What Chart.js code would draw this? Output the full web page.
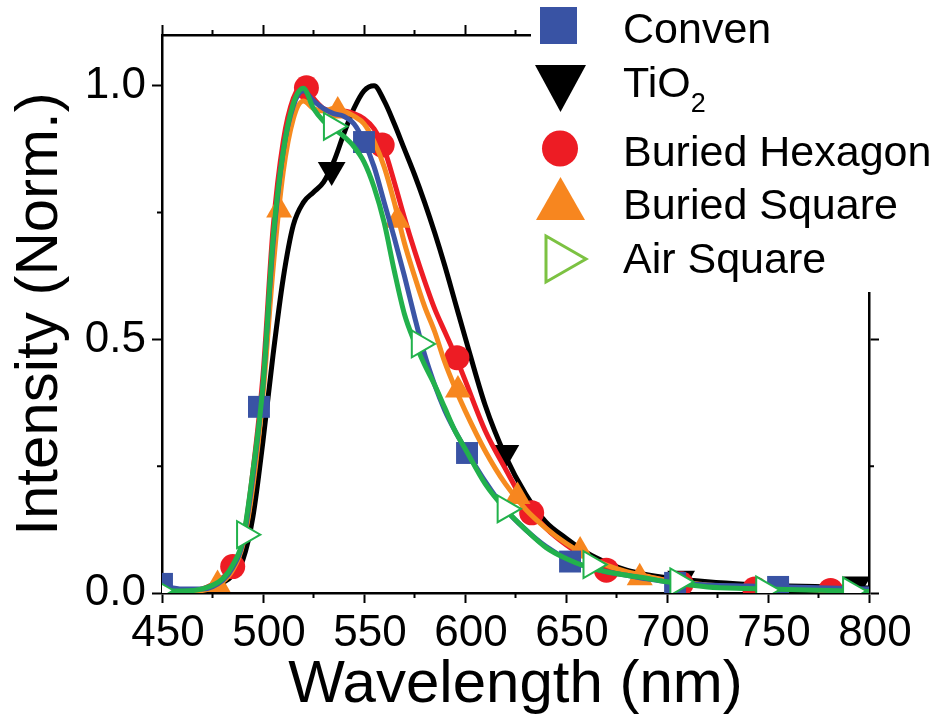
<!DOCTYPE html>
<html>
<head>
<meta charset="utf-8">
<script src="https://cdn.jsdelivr.net/npm/chart.js@4.4.1/dist/chart.umd.min.js"></script>
<style>
  html, body { margin: 0; padding: 0; background: #fff; }
  #wrap { width: 943px; height: 721px; position: relative; }
</style>
</head>
<body>
<div id="wrap"><canvas id="Chart"></canvas></div>
<script>
// wavelength grid (nm) and normalised spectra
const wavelengths = [450, 460, 470, 480, 485, 490, 495, 500, 505, 510, 515, 520, 525, 530, 535, 540, 545, 550, 555, 560, 565, 570, 575, 580, 585, 590, 595, 600, 610, 620, 630, 640, 650, 660, 670, 680, 690, 700, 720, 740, 760, 780, 800];

const conven = [0.015, 0.008, 0.008, 0.025, 0.05, 0.10, 0.23, 0.41, 0.69, 0.87, 0.96, 0.99, 0.97, 0.955, 0.945, 0.94, 0.925, 0.89, 0.84, 0.77, 0.70, 0.625, 0.545, 0.47, 0.41, 0.36, 0.32, 0.285, 0.22, 0.165, 0.125, 0.092, 0.068, 0.052, 0.042, 0.035, 0.028, 0.022, 0.016, 0.014, 0.012, 0.01, 0.008];
const tio2 = [0.012, 0.005, 0.006, 0.02, 0.035, 0.065, 0.15, 0.30, 0.47, 0.62, 0.725, 0.77, 0.79, 0.81, 0.85, 0.905, 0.955, 0.99, 1.0, 0.97, 0.925, 0.875, 0.825, 0.77, 0.71, 0.645, 0.575, 0.505, 0.37, 0.27, 0.195, 0.14, 0.108, 0.08, 0.06, 0.045, 0.036, 0.03, 0.022, 0.017, 0.014, 0.012, 0.01];
const buriedHex = [0.005, 0.003, 0.008, 0.03, 0.05, 0.10, 0.24, 0.43, 0.72, 0.89, 0.975, 1.0, 0.975, 0.955, 0.95, 0.95, 0.945, 0.935, 0.915, 0.875, 0.81, 0.74, 0.675, 0.615, 0.56, 0.515, 0.47, 0.42, 0.32, 0.245, 0.175, 0.128, 0.095, 0.07, 0.05, 0.04, 0.032, 0.025, 0.015, 0.011, 0.008, 0.007, 0.005];
const buriedSq = [0.003, 0.003, 0.005, 0.022, 0.045, 0.095, 0.21, 0.39, 0.64, 0.83, 0.935, 0.97, 0.955, 0.95, 0.955, 0.95, 0.94, 0.925, 0.89, 0.84, 0.77, 0.69, 0.625, 0.565, 0.515, 0.455, 0.405, 0.36, 0.28, 0.215, 0.165, 0.128, 0.098, 0.074, 0.055, 0.042, 0.033, 0.025, 0.016, 0.011, 0.008, 0.006, 0.004];
const airSq = [0.005, 0.004, 0.008, 0.028, 0.055, 0.105, 0.24, 0.41, 0.70, 0.87, 0.965, 0.995, 0.955, 0.93, 0.915, 0.90, 0.88, 0.85, 0.80, 0.73, 0.635, 0.55, 0.495, 0.45, 0.41, 0.365, 0.32, 0.285, 0.215, 0.165, 0.125, 0.09, 0.068, 0.052, 0.042, 0.035, 0.029, 0.022, 0.012, 0.009, 0.007, 0.005, 0.003];

// symbol positions along each curve
const convenMarkX = [450, 498, 550, 601, 652, 704, 755];
const convenMarkY = [0.018, 0.367, 0.889, 0.276, 0.062, 0.02, 0.012];
const tio2MarkX = [447, 534, 620, 707, 794];
const tio2MarkY = [0.015, 0.834, 0.276, 0.028, 0.017];
const hexMarkX = [485, 521.5, 559, 596, 633, 670, 707, 743.5, 781];
const hexMarkY = [0.052, 0.996, 0.883, 0.464, 0.158, 0.045, 0.018, 0.008, 0.005];
const sqMarkX = [477.5, 508, 537, 566.5, 596.5, 626, 657, 686.5];
const sqMarkY = [0.017, 0.755, 0.95, 0.735, 0.40, 0.19, 0.083, 0.03];
const airMarkX = [448, 491, 534, 577.5, 620, 662.5, 705.5, 748, 791];
const airMarkY = [0.005, 0.115, 0.92, 0.491, 0.166, 0.056, 0.022, 0.006, 0.004];

const seriesNames = ["Conven", "TiO2", "Buried Hexagon", "Buried Square", "Air Square"];
const xTicks = [450, 500, 550, 600, 650, 700, 750, 800];
const xMinor = [475, 525, 575, 625, 675, 725, 775];
const yTicks = [0, 0.5, 1.0];
const yMinor = [0.25, 0.75];

const FONT = "'Liberation Sans', Arial, sans-serif";
Chart.defaults.font.family = FONT;
Chart.defaults.color = "#000";

const pts = (xs, ys) => xs.map((x, i) => ({ x: x, y: ys[i] }));

const lineSet = (label, vals, color, order) => ({
  label: label,
  data: pts(wavelengths, vals),
  showLine: true,
  borderColor: color,
  borderWidth: 5,
  pointRadius: 0,
  cubicInterpolationMode: "monotone",
  order: order,
});

const markSet = (label, xs, ys, style, rot, radius, fill, stroke, order) => ({
  label: label,
  data: pts(xs, ys),
  showLine: false,
  pointStyle: style,
  pointRotation: rot,
  pointRadius: radius,
  pointBackgroundColor: fill,
  pointBorderColor: stroke,
  pointBorderWidth: fill === "#fff" ? 2 : 0,
  order: order,
});

const setTicks = (vals) => (scale) => {
  scale.ticks = vals.map((v) => ({ value: v }));
};

const gridOpts = {
  drawOnChartArea: false,
  drawTicks: true,
  tickLength: 10,
  tickWidth: 2,
  tickColor: "#000",
};
const borderOpts = { display: true, color: "#000", width: 2.5 };

// minor ticks + legend panel (the legend covers the corner of the frame)
const extras = {
  id: "extras",
  afterDraw(chart) {
    const ctx = chart.ctx;
    const area = chart.chartArea;
    const xs = chart.scales.x;
    const ys = chart.scales.y;
    ctx.save();
    ctx.strokeStyle = "#000";
    ctx.lineWidth = 2;
    ctx.beginPath();
    xMinor.forEach((v) => {
      const px = xs.getPixelForValue(v);
      ctx.moveTo(px, area.bottom);
      ctx.lineTo(px, area.bottom + 5);
      ctx.moveTo(px, area.top);
      ctx.lineTo(px, area.top - 5);
    });
    yMinor.forEach((v) => {
      const py = ys.getPixelForValue(v);
      ctx.moveTo(area.left, py);
      ctx.lineTo(area.left - 5, py);
      ctx.moveTo(area.right, py);
      ctx.lineTo(area.right + 5, py);
    });
    ctx.stroke();

    ctx.fillStyle = "#fff";
    ctx.fillRect(531, 0, 412, 292);

    // symbols
    ctx.fillStyle = "#3953a4";
    ctx.fillRect(540, 7, 37, 37);
    ctx.fillStyle = "#000";
    ctx.beginPath();
    ctx.moveTo(535, 65); ctx.lineTo(586, 65); ctx.lineTo(560.5, 112); ctx.closePath();
    ctx.fill();
    ctx.fillStyle = "#ed1c24";
    ctx.beginPath();
    ctx.arc(560, 148.5, 18, 0, Math.PI * 2);
    ctx.fill();
    ctx.fillStyle = "#f7861f";
    ctx.beginPath();
    ctx.moveTo(560.5, 177); ctx.lineTo(585, 220); ctx.lineTo(536, 220); ctx.closePath();
    ctx.fill();
    ctx.fillStyle = "#fff";
    ctx.strokeStyle = "#7cc242";
    ctx.lineWidth = 3;
    ctx.beginPath();
    ctx.moveTo(546, 236); ctx.lineTo(586, 259); ctx.lineTo(546, 282); ctx.closePath();
    ctx.fill();
    ctx.stroke();

    // labels
    ctx.fillStyle = "#000";
    ctx.textBaseline = "alphabetic";
    ctx.textAlign = "left";
    ctx.font = "43px " + FONT;
    ctx.fillText(seriesNames[0], 623, 43);
    ctx.fillText("TiO", 623, 97);
    const w = ctx.measureText("TiO").width;
    ctx.fillText(seriesNames[2], 623, 166);
    ctx.fillText(seriesNames[3], 623, 219);
    ctx.fillText(seriesNames[4], 623, 273);
    ctx.font = "27px " + FONT;
    ctx.fillText("2", 623 + w, 112);
    ctx.restore();
  },
};

const ctx = document.getElementById("Chart");

new Chart(ctx, {
  type: "scatter",
  data: {
    datasets: [
      markSet(seriesNames[4], airMarkX, airMarkY, "triangle", 90, 15.5, "#fff", "#21b24b", 0),
      lineSet(seriesNames[4], airSq, "#22b14c", 1),
      markSet(seriesNames[0], convenMarkX, convenMarkY, "rect", 0, 15.5, "#3953a4", "#3953a4", 2),
      lineSet(seriesNames[0], conven, "#3b55a6", 3),
      markSet(seriesNames[3], sqMarkX, sqMarkY, "triangle", 0, 15, "#f7861f", "#f7861f", 4),
      lineSet(seriesNames[3], buriedSq, "#f68b1f", 5),
      markSet(seriesNames[2], hexMarkX, hexMarkY, "circle", 0, 12.5, "#ed1c24", "#ed1c24", 6),
      lineSet(seriesNames[2], buriedHex, "#ed1c24", 7),
      markSet(seriesNames[1], tio2MarkX, tio2MarkY, "triangle", 180, 16, "#000", "#000", 8),
      lineSet(seriesNames[1], tio2, "#000", 9),
    ],
  },
  options: {
    responsive: true,
    maintainAspectRatio: false,
    animation: false,
    layout: { padding: 0 },
    plugins: {
      legend: { display: false },
      tooltip: { enabled: false },
    },
    scales: {
      x: {
        type: "linear",
        position: "bottom",
        min: 450,
        max: 800,
        afterBuildTicks: setTicks(xTicks),
        afterFit: (s) => { s.height = 128; },
        grid: gridOpts,
        border: borderOpts,
        ticks: {
          font: { size: 44 },
          padding: 4,
          labelOffset: 6,
          maxRotation: 0,
          autoSkip: false,
          callback: (v) => String(v),
        },
        title: {
          display: true,
          text: "Wavelength (nm)",
          font: { size: 60 },
          padding: { top: 0, bottom: 0 },
        },
      },
      x2: {
        type: "linear",
        position: "top",
        min: 450,
        max: 800,
        afterBuildTicks: setTicks(xTicks),
        afterFit: (s) => { s.height = 35; },
        grid: gridOpts,
        border: borderOpts,
        ticks: { display: false },
      },
      y: {
        type: "linear",
        position: "left",
        min: 0,
        max: 1.1,
        afterBuildTicks: setTicks(yTicks),
        afterFit: (s) => { s.width = 162; },
        grid: gridOpts,
        border: borderOpts,
        ticks: {
          font: { size: 44 },
          padding: 6,
          callback: (v) => v.toFixed(1),
        },
        title: {
          display: true,
          text: "Intensity (Norm.)",
          font: { size: 60 },
          padding: { top: 4, bottom: 0 },
        },
      },
      y2: {
        type: "linear",
        position: "right",
        min: 0,
        max: 1.1,
        afterBuildTicks: setTicks(yTicks),
        afterFit: (s) => { s.width = 74; },
        grid: gridOpts,
        border: borderOpts,
        ticks: { display: false },
      },
    },
  },
  plugins: [extras],
});
</script>
</body>
</html>
